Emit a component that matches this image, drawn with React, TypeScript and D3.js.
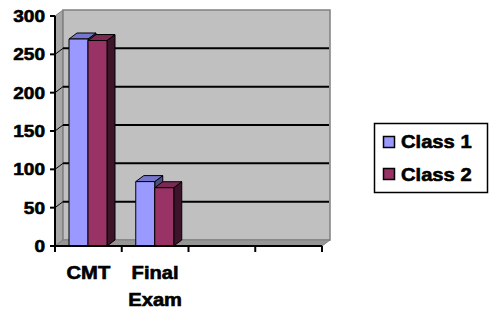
import React from 'react';
import { scaleBand, scaleLinear } from 'd3';

const categories = ['CMT', 'Final Exam', 'c3', 'c4'];
const categoryLabels = [['CMT'], ['Final', 'Exam'], [], []];
const seriesNames = ['Class 1', 'Class 2'];
const class1 = [270, 84];
const class2 = [268, 76];
const yTicks = [0, 50, 100, 150, 200, 250, 300];

const colors = [
  { front: '#9999FF', top: '#7676CC', side: '#4D4D80' },
  { front: '#993366', top: '#7A2952', side: '#3D1429' },
];

const W = 490;
const H = 312;
const DX = 8; // depth offset of walls / bars
const DY = 6;
const FONT = 'Arial, "Liberation Sans", sans-serif';
const SX = 1.12; // the original text is a bit wider than Arial

const App = () => {
  const x = scaleBand().domain(categories).range([55, 322]).padding(0);
  const inner = scaleBand().domain(seriesNames).range([14, 52]);
  const y = scaleLinear().domain([0, 300]).range([246, 16]);

  const left = 55;
  const right = 322;
  const bottom = y(0);
  const top = y(300);

  const series = [class1, class2];

  const bars: JSX.Element[] = [];
  categories.forEach((cat, ci) => {
    series.forEach((vals, si) => {
      const v = vals[ci];
      if (v === undefined) return;
      const bx = (x(cat) as number) + (inner(seriesNames[si]) as number);
      const bw = inner.bandwidth();
      const by = y(v);
      const c = colors[si];
      bars.push(
        <g key={cat + si} stroke="#000" strokeWidth={1} strokeLinejoin="round">
          <polygon
            points={`${bx + bw},${by} ${bx + bw + DX},${by - DY} ${bx + bw + DX},${bottom - DY} ${bx + bw},${bottom}`}
            fill={c.side}
          />
          <polygon
            points={`${bx},${by} ${bx + DX},${by - DY} ${bx + bw + DX},${by - DY} ${bx + bw},${by}`}
            fill={c.top}
          />
          <rect x={bx} y={by} width={bw} height={bottom - by} fill={c.front} />
        </g>
      );
    });
  });

  const textProps = { fill: '#000', stroke: '#000', strokeWidth: 0.6 };

  return (
    <svg
      width={W}
      height={H}
      style={{ position: 'absolute', left: 0, top: 0, background: '#fff' }}
      fontFamily={FONT}
      fontWeight="bold"
    >
      {/* side wall */}
      <polygon
        points={`${left},${bottom} ${left},${top} ${left + DX},${top - DY} ${left + DX},${bottom - DY}`}
        fill="#A6A6A6"
        stroke="#808080"
        strokeWidth={1}
      />
      {/* back wall */}
      <rect
        x={left + DX}
        y={top - DY}
        width={right - left}
        height={bottom - top}
        fill="#C0C0C0"
        stroke="#808080"
        strokeWidth={1.5}
      />
      {/* floor */}
      <polygon
        points={`${left},${bottom} ${left + DX},${bottom - DY} ${right + DX},${bottom - DY} ${right},${bottom}`}
        fill="#969696"
        stroke="#808080"
        strokeWidth={1}
      />
      {/* gridlines */}
      {yTicks.slice(1, -1).map((t) => (
        <g key={t} stroke="#000" strokeWidth={2}>
          <line x1={left} y1={y(t)} x2={left + DX} y2={y(t) - DY} strokeWidth={1} />
          <line x1={left + DX} y1={y(t) - DY} x2={right + DX - 1} y2={y(t) - DY} />
        </g>
      ))}
      {bars}
      {/* value axis */}
      <line x1={left} y1={top} x2={left} y2={bottom} stroke="#000" strokeWidth={2} />
      {yTicks.map((t) => (
        <g key={t}>
          <line x1={left - 5} y1={y(t)} x2={left} y2={y(t)} stroke="#000" strokeWidth={2} />
          <text
            transform={`translate(45,${y(t) + 6}) scale(${SX},1)`}
            textAnchor="end"
            fontSize={17}
            {...textProps}
          >
            {t}
          </text>
        </g>
      ))}
      {/* category axis */}
      <line x1={left} y1={bottom} x2={right} y2={bottom} stroke="#000" strokeWidth={2} />
      {categories.map((cat) => (
        <line
          key={cat}
          x1={(x(cat) as number) + x.bandwidth()}
          y1={bottom}
          x2={(x(cat) as number) + x.bandwidth()}
          y2={bottom + 6}
          stroke="#000"
          strokeWidth={2}
        />
      ))}
      <line x1={left} y1={bottom} x2={left} y2={bottom + 6} stroke="#000" strokeWidth={2} />
      {categories.map((cat, ci) =>
        categoryLabels[ci].map((ln, li) => (
          <text
            key={cat + li}
            transform={`translate(${(x(cat) as number) + x.bandwidth() / 2},${279 + li * 27}) scale(${SX},1)`}
            textAnchor="middle"
            fontSize={18}
            {...textProps}
          >
            {ln}
          </text>
        ))
      )}
      {/* legend */}
      <rect x={374.5} y={123.5} width={113} height={69} fill="#fff" stroke="#000" strokeWidth={1.5} />
      {seriesNames.map((s, i) => (
        <g key={s}>
          <rect
            x={383.5}
            y={136.5 + i * 32}
            width={11}
            height={11}
            fill={colors[i].front}
            stroke="#000"
            strokeWidth={1.5}
          />
          <text
            transform={`translate(401,${148 + i * 33}) scale(${SX},1)`}
            fontSize={18}
            {...textProps}
          >
            {s}
          </text>
        </g>
      ))}
    </svg>
  );
};

export default App;
